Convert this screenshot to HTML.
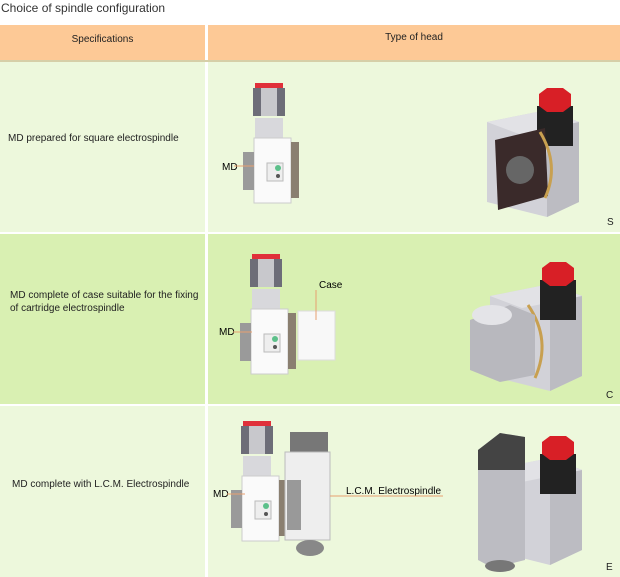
<!DOCTYPE html>
<html><head><meta charset="utf-8"><style>
body{margin:0;width:620px;height:577px;background:#fff;position:relative;overflow:hidden;font-family:"Liberation Sans",sans-serif;color:#222}
.a{position:absolute}
.t{font-size:10px;line-height:13px}
</style></head><body>
<div class="a" style="left:1px;top:1px;font-size:12px;color:#333">Choice of spindle configuration</div>
<div class="a" style="left:0;top:25px;width:205px;height:35px;background:#fdc996"></div>
<div class="a" style="left:208px;top:25px;width:412px;height:35px;background:#fdc996"></div>
<div class="a t" style="left:0;top:33px;width:205px;text-align:center">Specifications</div>
<div class="a t" style="left:208px;top:31px;width:412px;text-align:center">Type of head</div>
<div class="a" style="left:0;top:60px;width:620px;height:2px;background:#d6cfa8"></div>
<div class="a" style="left:0;top:62px;width:205px;height:170px;background:#edf8dc"></div>
<div class="a" style="left:208px;top:62px;width:412px;height:170px;background:#edf8dc"></div>
<div class="a" style="left:0;top:234px;width:205px;height:170px;background:#d9f0b2"></div>
<div class="a" style="left:208px;top:234px;width:412px;height:170px;background:#d9f0b2"></div>
<div class="a" style="left:0;top:406px;width:205px;height:171px;background:#edf8dc"></div>
<div class="a" style="left:208px;top:406px;width:412px;height:171px;background:#edf8dc"></div>
<div class="a t" style="left:8px;top:132px">MD prepared for square electrospindle</div>
<div class="a t" style="left:10px;top:289px">MD complete of case suitable for the fixing<br>of cartridge electrospindle</div>
<div class="a t" style="left:12px;top:478px">MD complete with L.C.M. Electrospindle</div>
<div class="a t" style="left:607px;top:216px">S</div>
<div class="a t" style="left:606px;top:389px">C</div>
<div class="a t" style="left:606px;top:561px">E</div>
<svg class="a" style="left:0;top:0" width="620" height="577">
<defs>
<g id="md">
<rect x="0" y="0" width="28" height="5" fill="#e0303a"/>
<rect x="-2" y="5" width="32" height="28" fill="#6d6d78"/>
<rect x="6" y="5" width="16" height="28" fill="#c8c8cc"/>
<rect x="0" y="35" width="28" height="20" fill="#d8d8dc"/>
<rect x="-1" y="55" width="37" height="65" fill="#fafafa" stroke="#ccc"/>
<rect x="-12" y="69" width="11" height="38" fill="#9a9a9a"/>
<rect x="36" y="59" width="8" height="56" fill="#8a7f70"/>
<rect x="12" y="80" width="16" height="18" fill="#eee" stroke="#bbb"/>
<circle cx="23" cy="85" r="3" fill="#5cc08a"/>
<circle cx="23" cy="93" r="2" fill="#555"/>
</g>
<g id="iso">
<polygon points="0,30 60,18 92,30 92,110 60,125 0,110" fill="#d2d2d8"/>
<polygon points="60,18 92,30 92,110 60,125" fill="#bcbcc2"/>
<polygon points="0,30 60,18 92,30 32,42" fill="#e2e2e6"/>
<rect x="50" y="14" width="36" height="40" fill="#222"/>
<polygon points="52,2 60,-4 76,-4 84,2 84,14 76,20 60,20 52,14" fill="#d81f26"/>
</g>
</defs>
<use href="#md" x="255" y="83"/>
<text x="222" y="170" font-size="10">MD</text>
<line x1="234" y1="166" x2="254" y2="166" stroke="#e8a070"/>
<use href="#iso" x="487" y="92"/>
<polygon points="495,140 545,128 548,196 498,210" fill="#3a2a2a"/>
<path d="M540,132 Q560,165 545,198" stroke="#c8a050" stroke-width="3" fill="none"/>
<circle cx="520" cy="170" r="14" fill="#666"/>
<use href="#md" x="252" y="254"/>
<rect x="298" y="311" width="37" height="49" fill="#f8f8f8" stroke="#ddd"/>
<text x="319" y="288" font-size="10">Case</text>
<line x1="316" y1="290" x2="316" y2="320" stroke="#e8a070"/>
<text x="219" y="335" font-size="10">MD</text>
<line x1="233" y1="332" x2="252" y2="332" stroke="#e8a070"/>
<use href="#iso" x="490" y="266"/>
<path d="M528,305 Q552,340 535,378" stroke="#c8a050" stroke-width="3" fill="none"/>
<polygon points="470,320 510,305 535,315 535,375 500,382 470,370" fill="#b8b8be"/>
<ellipse cx="492" cy="315" rx="20" ry="10" fill="#e4e4e8"/>
<use href="#md" x="243" y="421"/>
<rect x="290" y="432" width="38" height="20" fill="#777"/>
<rect x="285" y="452" width="45" height="88" fill="#eee" stroke="#bbb"/>
<rect x="287" y="480" width="14" height="50" fill="#999"/>
<ellipse cx="310" cy="548" rx="14" ry="8" fill="#888"/>
<text x="346" y="494" font-size="10">L.C.M. Electrospindle</text>
<line x1="330" y1="496" x2="443" y2="496" stroke="#e8a070"/>
<text x="213" y="497" font-size="10">MD</text>
<line x1="227" y1="494" x2="245" y2="494" stroke="#e8a070"/>
<use href="#iso" x="490" y="440"/>
<polygon points="478,450 500,433 525,437 525,560 493,568 478,560" fill="#bcbcc2"/>
<polygon points="478,450 500,433 525,437 525,470 478,470" fill="#444"/>
<ellipse cx="500" cy="566" rx="15" ry="6" fill="#777"/>
</svg>
</body></html>
